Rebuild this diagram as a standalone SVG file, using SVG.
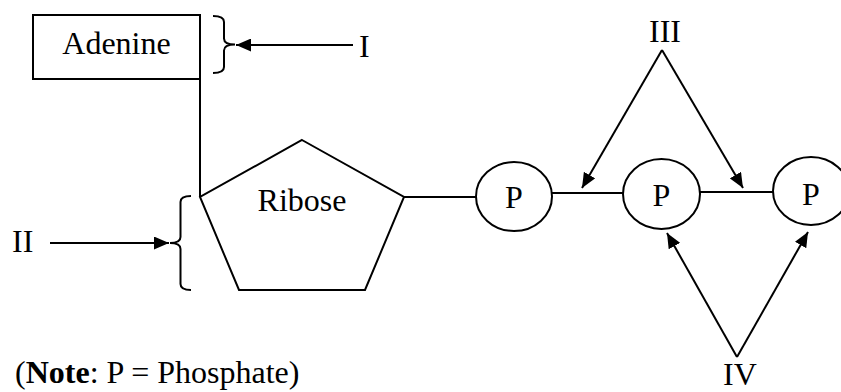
<svg xmlns="http://www.w3.org/2000/svg" width="841" height="392" viewBox="0 0 841 392">
<style>
.s{fill:none;stroke:#000;stroke-width:2}
.n{fill:#fff;stroke:#000;stroke-width:2}
text{font-family:"Liberation Serif","Times New Roman",serif;font-size:32px;fill:#000}
.c{text-anchor:middle}
</style>
<defs>
<marker id="ah" markerUnits="userSpaceOnUse" markerWidth="16" markerHeight="13" refX="15" refY="6.5" orient="auto">
<path d="M0,0 L15,6.5 L0,13 z" fill="#000"/>
</marker>
</defs>
<rect width="841" height="392" fill="#fff"/>
<g id="connectors">
<line class="s" x1="200" y1="79" x2="200" y2="197"/>
<line class="s" x1="404" y1="197" x2="476" y2="197"/>
<line class="s" x1="552" y1="193" x2="623" y2="193"/>
<line class="s" x1="700" y1="192" x2="773" y2="192"/>
<path class="s" d="M213,16 Q224,16 224,22 L224,38.5 Q224,44.5 235,44.5 Q224,44.5 224,50.5 L224,67 Q224,73 213,73"/>
<path class="s" d="M191,196 Q180.5,196 180.5,202 L180.5,237 Q180.5,243 170,243 Q180.5,243 180.5,249 L180.5,284 Q180.5,290 191,290"/>
<line class="s" x1="353" y1="45" x2="236" y2="45" marker-end="url(#ah)"/>
<line class="s" x1="50" y1="243" x2="169" y2="243" marker-end="url(#ah)"/>
<line class="s" x1="662" y1="50" x2="582" y2="188" marker-end="url(#ah)"/>
<line class="s" x1="662" y1="50" x2="743" y2="188" marker-end="url(#ah)"/>
<line class="s" x1="737" y1="357" x2="667" y2="233" marker-end="url(#ah)"/>
<line class="s" x1="737" y1="357" x2="808" y2="232" marker-end="url(#ah)"/>
</g>
<g id="adenine">
<rect class="n" x="33" y="15" width="167" height="64"/>
<text class="c" x="116.5" y="54">Adenine</text>
</g>
<g id="ribose">
<polygon class="n" points="302,140 404,197 365,290 239,290 200,197"/>
<text class="c" x="302" y="211">Ribose</text>
</g>
<g id="p1">
<ellipse class="n" cx="514" cy="196.5" rx="38" ry="34.5"/>
<text class="c" x="514" y="208">P</text>
</g>
<g id="p2">
<ellipse class="n" cx="661.5" cy="194" rx="38.5" ry="35"/>
<text class="c" x="661.5" y="206">P</text>
</g>
<g id="p3">
<ellipse class="n" cx="811" cy="191" rx="38" ry="34"/>
<text class="c" x="811" y="205">P</text>
</g>
<g id="labels">
<text x="359" y="57">I</text>
<text x="12" y="252">II</text>
<text class="c" x="665" y="42">III</text>
<text class="c" x="740" y="385">IV</text>
<text x="15" y="383">(<tspan font-weight="bold">Note</tspan>: P = Phosphate)</text>
</g>
</svg>
